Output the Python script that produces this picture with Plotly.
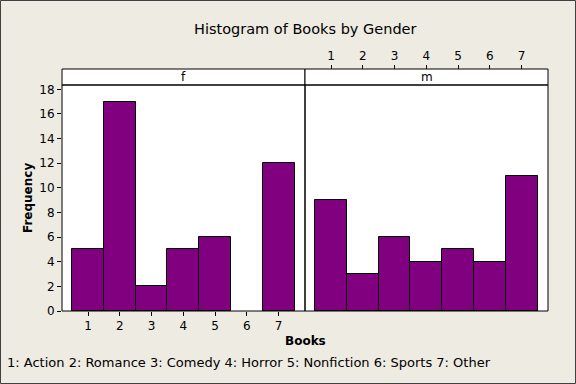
import plotly.graph_objects as go

categories = [1, 2, 3, 4, 5, 6, 7]
freq_f = [5, 17, 2, 5, 6, 0, 12]
freq_m = [9, 3, 6, 4, 5, 4, 11]
y_ticks = [0, 2, 4, 6, 8, 10, 12, 14, 16, 18]
panel_labels = ["f", "m"]
title = "Histogram of Books by Gender"
footnote = "1: Action 2: Romance 3: Comedy 4: Horror 5: Nonfiction 6: Sports 7: Other"

W, H = 576, 384
L, R, T, B = 62, 548, 69, 311
pw, ph = R - L, B - T
strip_h = 16
ydom_top = (ph - strip_h) / ph

BG = "#EEEBE2"
BAR = "#800080"
FONT = "DejaVu Sans"


def outline_widths(vals):
    return [0 if v == 0 else 1 for v in vals]


fig = go.Figure()
fig.add_trace(go.Bar(x=categories, y=freq_f, width=1,
                     marker=dict(color=BAR, line=dict(color="black", width=outline_widths(freq_f))),
                     xaxis="x", yaxis="y", showlegend=False, hoverinfo="skip"))
fig.add_trace(go.Bar(x=categories, y=freq_m, width=1,
                     marker=dict(color=BAR, line=dict(color="black", width=outline_widths(freq_m))),
                     xaxis="x2", yaxis="y2", showlegend=False, hoverinfo="skip"))

xr = [0.18, 7.83]
yr = [0, 18.35]
tickfont = dict(family=FONT, size=12, color="black")
fig.update_layout(
    width=W, height=H,
    margin=dict(l=L, r=W - R, t=T, b=H - B, pad=0, autoexpand=False),
    paper_bgcolor=BG, plot_bgcolor="white",
    font=dict(family=FONT, color="black"),
    bargap=0,
    xaxis=dict(domain=[0, 0.5], range=xr, tickvals=categories, ticks="outside", ticklen=4, tickcolor="black",
               showgrid=False, zeroline=False, showline=False, tickfont=tickfont, anchor="y", automargin=False),
    yaxis=dict(domain=[0, ydom_top], range=yr, tickvals=y_ticks, ticks="outside", ticklen=4, tickcolor="black",
               showgrid=False, zeroline=False, showline=False, tickfont=tickfont, anchor="x", automargin=False),
    xaxis2=dict(domain=[0.5, 1], range=xr, tickvals=categories, ticks="outside", ticklen=4, tickcolor="black",
                side="top", anchor="free", position=1, showgrid=False, zeroline=False, showline=False,
                tickfont=tickfont, automargin=False),
    yaxis2=dict(domain=[0, ydom_top], range=yr, anchor="x2", showticklabels=False, ticks="",
                showgrid=False, zeroline=False, showline=False, automargin=False),
)

shapes = []
for x0, x1 in [(0, 0.5), (0.5, 1)]:
    shapes.append(dict(type="rect", xref="paper", yref="paper", x0=x0, x1=x1, y0=0, y1=ydom_top,
                       line=dict(color="black", width=1), layer="above"))
    shapes.append(dict(type="rect", xref="paper", yref="paper", x0=x0, x1=x1, y0=ydom_top, y1=1,
                       line=dict(color="black", width=1), fillcolor="white", layer="below"))
shapes.append(dict(type="rect", xref="paper", yref="paper",
                   x0=-L / pw + 0.5 / pw, x1=1 + (W - R) / pw - 0.5 / pw,
                   y0=-(H - B) / ph + 0.5 / ph, y1=1 + T / ph - 0.5 / ph,
                   line=dict(color="#404040", width=1)))
fig.update_layout(shapes=shapes)

ann = []
for i, lab in enumerate(panel_labels):
    ann.append(dict(text=lab, xref="paper", yref="paper", x=0.25 + 0.5 * i, y=(ydom_top + 1) / 2,
                    showarrow=False, font=dict(family=FONT, size=12), xanchor="center", yanchor="middle"))
ann.append(dict(text=title, xref="paper", yref="paper", x=0.5, y=1 + (T - 29) / ph, showarrow=False,
                font=dict(family=FONT, size=14.5), xanchor="center", yanchor="middle"))
ann.append(dict(text="<b>Frequency</b>", xref="paper", yref="paper", x=-(L - 28) / pw, y=(B - 198) / ph,
                showarrow=False, textangle=-90, font=dict(family=FONT, size=12), xanchor="center", yanchor="middle"))
ann.append(dict(text="<b>Books</b>", xref="paper", yref="paper", x=0.5, y=-(341 - B) / ph, showarrow=False,
                font=dict(family=FONT, size=12), xanchor="center", yanchor="middle"))
ann.append(dict(text=footnote, xref="paper", yref="paper", x=-(L - 5) / pw, y=-(362 - B) / ph, showarrow=False,
                font=dict(family=FONT, size=13), xanchor="left", yanchor="middle"))
fig.update_layout(annotations=ann)

fig.write_html("out.html", config={"displayModeBar": False},
               post_script="document.body.style.margin='0';document.body.style.overflow='hidden';")
